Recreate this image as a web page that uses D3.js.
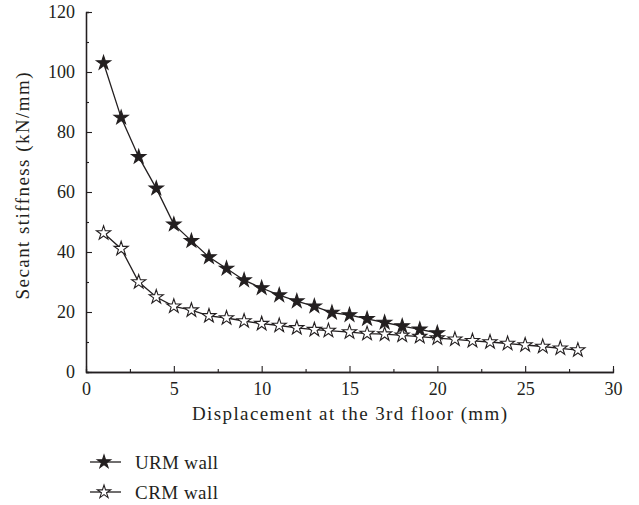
<!DOCTYPE html>
<html lang="en">
  <head>
    <meta charset="UTF-8" />
    <title>Secant stiffness</title>
    <script src="https://cdn.jsdelivr.net/npm/d3@7"></script>
    <style>
      body {
        margin: 0;
        padding: 0;
        background: #fff;
      }
      text {
        font-family: 'Liberation Serif', 'DejaVu Serif', serif;
        fill: #231f20;
      }
    </style>
  </head>

  <body>
    <svg width="639" height="505"></svg>

    <script>
      // URM wall
      var urmX = [1, 2, 3, 4, 5, 6, 7, 8, 9, 10, 11, 12, 13, 14, 15, 16, 17, 18, 19, 20]
      var urmY = [103, 84.8, 71.7, 61.2, 49.2, 43.7, 38.3, 34.5, 30.6, 28, 25.6, 23.6, 21.9, 19.8, 19, 17.7, 16.5, 15.3, 14.2, 13]
      // CRM wall
      var crmX = [1, 2, 3, 4, 5, 6, 7, 8, 9, 10, 11, 12, 13, 13.8, 15, 16, 17, 18, 19, 20, 21, 22, 23, 24, 25, 26, 27, 28]
      var crmY = [46.3, 41.1, 30, 25, 21.9, 20.6, 18.7, 18, 17, 16.1, 15.5, 14.7, 14.1, 13.8, 13.3, 12.8, 12.6, 12.2, 11.8, 11.3, 10.9, 10.4, 10, 9.5, 9, 8.5, 7.9, 7.3]
      var xTicks = [0, 5, 10, 15, 20, 25, 30]
      var yTicks = [0, 20, 40, 60, 80, 100, 120]
      var seriesNames = ['URM wall', 'CRM wall']

      var margin = { left: 86, top: 12, right: 26, bottom: 133 }
      var svg = d3.select('svg')
      var width = +svg.attr('width')
      var height = +svg.attr('height')
      var right = width - margin.left - margin.right
      var bottom = height - margin.top - margin.bottom
      var ink = '#231f20'

      var g = svg.append('g').attr('transform', `translate(${margin.left}, ${margin.top})`)

      var xScale = d3.scaleLinear().domain([0, 30]).range([0, right])
      var yScale = d3.scaleLinear().domain([0, 120]).range([bottom, 0])

      // minor ticks (inside)
      var xAxisMinor = d3.axisBottom(xScale).tickValues(d3.range(2.5, 30, 5)).tickSize(-3).tickFormat('')
      var yAxisMinor = d3.axisLeft(yScale).tickValues(d3.range(10, 120, 20)).tickSize(-3).tickFormat('')
      var xAxis = d3.axisBottom(xScale).tickValues(xTicks).tickSize(-6).tickPadding(10).tickSizeOuter(0)
      var yAxis = d3.axisLeft(yScale).tickValues(yTicks).tickSize(-6).tickPadding(11).tickSizeOuter(0)

      var gx = g.append('g').attr('transform', `translate(0, ${bottom})`)
      gx.append('g').call(xAxisMinor)
      gx.append('g').call(xAxis)
      var gy = g.append('g')
      gy.append('g').call(yAxisMinor)
      gy.append('g').call(yAxis)

      g.selectAll('.domain').attr('stroke', ink).attr('stroke-width', 1.3)
      g.selectAll('.tick line').attr('stroke', ink).attr('stroke-width', 1.1)
      g.selectAll('.tick text').style('font-size', '18px').attr('fill', ink)

      g.append('text')
        .attr('x', xScale(15))
        .attr('y', bottom + 48)
        .attr('text-anchor', 'middle')
        .attr('textLength', 315)
        .attr('lengthAdjust', 'spacing')
        .style('font-size', '19px')
        .text('Displacement at the 3rd floor (mm)')

      g.append('text')
        .attr('transform', `translate(-57, ${yScale(62)}) rotate(-90)`)
        .attr('text-anchor', 'middle')
        .attr('textLength', 227)
        .attr('lengthAdjust', 'spacing')
        .style('font-size', '19px')
        .text('Secant stiffness (kN/mm)')

      var series = [
        { name: seriesNames[0], xs: urmX, ys: urmY, fill: ink },
        { name: seriesNames[1], xs: crmX, ys: crmY, fill: '#fff' },
      ]

      var line = d3
        .line()
        .x((d) => xScale(d[0]))
        .y((d) => yScale(d[1]))
      var star = d3.symbol().type(d3.symbolStar).size(62)

      // CRM first so URM sits on top where they cross
      series
        .slice()
        .reverse()
        .forEach(function (s) {
          var pts = s.xs.map((x, i) => [x, s.ys[i]])
          g.append('path')
            .datum(pts)
            .attr('fill', 'none')
            .attr('stroke', ink)
            .attr('stroke-width', 1.3)
            .attr('d', line)
          g.selectAll(null)
            .data(pts)
            .enter()
            .append('path')
            .attr('d', star)
            .attr('transform', (d) => `translate(${xScale(d[0])}, ${yScale(d[1])})`)
            .attr('fill', s.fill)
            .attr('stroke', ink)
            .attr('stroke-width', 1.1)
        })

      // legend
      var legend = svg.append('g').attr('transform', 'translate(90, 462)')
      var items = legend
        .selectAll('g')
        .data(series)
        .enter()
        .append('g')
        .attr('transform', (d, i) => `translate(0, ${i * 30})`)
      items.append('line').attr('x1', 0).attr('x2', 31).attr('stroke', ink).attr('stroke-width', 1.3)
      items
        .append('path')
        .attr('d', d3.symbol().type(d3.symbolStar).size(55))
        .attr('transform', 'translate(14, 0)')
        .attr('fill', (d) => d.fill)
        .attr('stroke', ink)
        .attr('stroke-width', 1.1)
      items
        .append('text')
        .attr('x', 45)
        .attr('dy', '0.35em')
        .attr('textLength', 83)
        .attr('lengthAdjust', 'spacing')
        .style('font-size', '19px')
        .text((d) => d.name)
    </script>
  </body>
</html>
